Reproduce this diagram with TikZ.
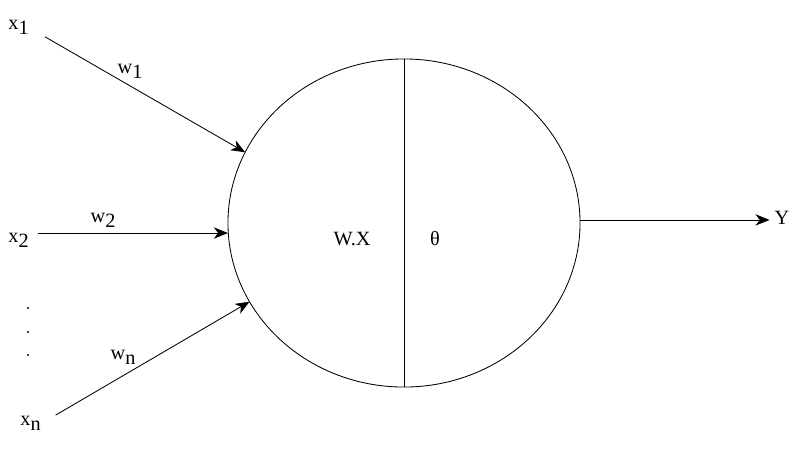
\documentclass[tikz,border=0pt]{standalone}
\usepackage{fontspec}
\setmainfont{Liberation Serif}
\usetikzlibrary{shapes.geometric,arrows.meta}
\newcommand{\lsub}[2]{#1\raisebox{-0.55ex}{#2}}

\begin{document}
\begin{tikzpicture}[x=0.025cm,y=-0.025cm,line width=0.6pt,
    >={Stealth[length=10pt,width=8pt,inset=3pt]},
    every node/.style={font=\Large}]
  \useasboundingbox (0,0) rectangle (800,450);
  \node (c) [draw, ellipse, inner sep=0pt, outer sep=0pt,
    minimum width=8.8cm, minimum height=8.2cm] at (404,223) {};
  \draw (c.north)--(c.south);
  \node (wx) at (352,239) {W.X};
  \node (th) at (435,239) {θ};

  \node (1) [anchor=north west, inner sep=0pt] at (8,20) {\lsub{x}{1}};
  \node (2) [anchor=north west, inner sep=0pt] at (8,233) {\lsub{x}{2}};
  \node (n) [anchor=north west, inner sep=0pt] at (20,416) {\lsub{x}{n}};
  \foreach \y in {308,332,355} {
    \node (d\y) [circle, fill, inner sep=0.6pt] at (28,\y) {};
  }
  \draw[->, shorten <=13pt] (1.east)--(c.156);
  \draw[->, shorten <=6pt] (2.north east)--(2.north east -| c.west);
  \draw[->, shorten <=12pt] (n.east)--(c.207);
  \node (w1) at (130,71) {\lsub{w}{1}};
  \node (w2) at (103,220) {\lsub{w}{2}};
  \node (wn) at (123,357) {\lsub{w}{n}};

  \node (y) at (782,218) {Y};
  \draw[->] (c.1)--(c.1 -| y.west);
\end{tikzpicture}
\end{document}
